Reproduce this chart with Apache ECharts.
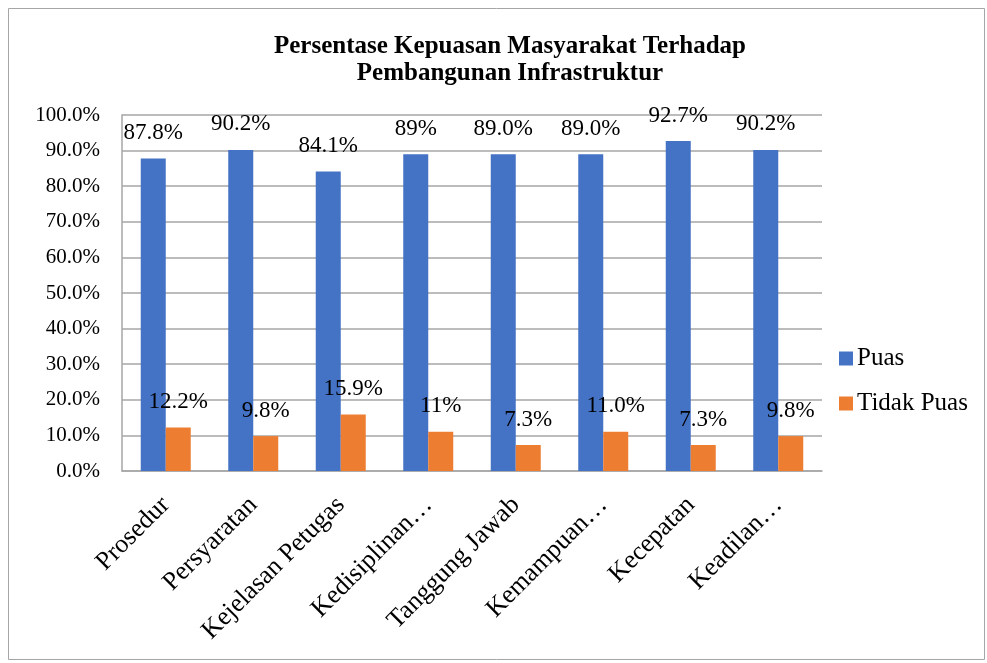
<!DOCTYPE html>
<html>
<head>
<meta charset="utf-8">
<script src="https://cdn.jsdelivr.net/npm/echarts@6/dist/echarts.min.js"></script>
<style>
  html, body { margin: 0; padding: 0; background: #fff; }
  #chart { width: 987px; height: 663px; }
</style>
</head>
<body>
<div id="chart"></div>
<script>
const categories = ['Prosedur', 'Persyaratan', 'Kejelasan Petugas', 'Kedisiplinan…', 'Tanggung Jawab', 'Kemampuan…', 'Kecepatan', 'Keadilan…'];
const puas = [87.8, 90.2, 84.1, 89.0, 89.0, 89.0, 92.7, 90.2];
const tidakPuas = [12.2, 9.8, 15.9, 11.0, 7.3, 11.0, 7.3, 9.8];
const puasLabels = ['87.8%', '90.2%', '84.1%', '89%', '89.0%', '89.0%', '92.7%', '90.2%'];
const tidakPuasLabels = ['12.2%', '9.8%', '15.9%', '11%', '7.3%', '11.0%', '7.3%', '9.8%'];

const font = '"Liberation Serif", "DejaVu Serif", serif';
const chart = echarts.init(document.getElementById('chart'));

const labelOf = (texts) => ({
  show: true,
  position: 'top',
  distance: 14,
  fontFamily: font,
  fontSize: 23,
  color: '#000',
  formatter: (p) => texts[p.dataIndex]
});

chart.setOption({
  animation: false,
  textStyle: { fontFamily: font },
  graphic: [{
    type: 'rect',
    shape: { x: 8.5, y: 8.5, width: 976, height: 651 },
    style: { fill: 'none', stroke: '#a6a6a6', lineWidth: 1 },
    silent: true
  }],
  title: {
    text: 'Persentase Kepuasan Masyarakat Terhadap\nPembangunan Infrastruktur',
    left: 505,
    top: 28,
    textAlign: 'center',
    textStyle: {
      fontFamily: font,
      fontSize: 25,
      fontWeight: 'bold',
      color: '#000',
      lineHeight: 27
    }
  },
  legend: {
    orient: 'vertical',
    left: 834,
    top: 341,
    itemWidth: 14,
    itemHeight: 14,
    itemGap: 20,
    icon: 'rect',
    textStyle: { fontFamily: font, fontSize: 25, color: '#000', padding: [0, 0, 0, -1] },
    data: ['Puas', 'Tidak Puas']
  },
  grid: { left: 122, right: 165, top: 115, bottom: 192, containLabel: false },
  xAxis: {
    type: 'category',
    data: categories,
    axisLine: { lineStyle: { color: '#a6a6a6', width: 1.5 } },
    axisTick: { show: false },
    axisLabel: {
      interval: 0,
      rotate: 45,
      margin: 30,
      fontFamily: font,
      fontSize: 26,
      color: '#000'
    }
  },
  yAxis: {
    type: 'value',
    min: 0,
    max: 100,
    interval: 10,
    axisLine: { show: true, lineStyle: { color: '#a6a6a6', width: 1.5 } },
    axisTick: { show: false },
    splitLine: { lineStyle: { color: '#a6a6a6', width: 1.5 } },
    axisLabel: {
      margin: 22,
      fontFamily: font,
      fontSize: 21,
      color: '#000',
      formatter: (v) => v.toFixed(1) + '%'
    }
  },
  series: [
    {
      name: 'Puas',
      type: 'bar',
      data: puas,
      barWidth: 25,
      barGap: '0%',
      itemStyle: { color: '#4472C4' },
      label: labelOf(puasLabels)
    },
    {
      name: 'Tidak Puas',
      type: 'bar',
      data: tidakPuas,
      barWidth: 25,
      barGap: '0%',
      itemStyle: { color: '#ED7D31' },
      label: labelOf(tidakPuasLabels)
    }
  ]
});
</script>
</body>
</html>
